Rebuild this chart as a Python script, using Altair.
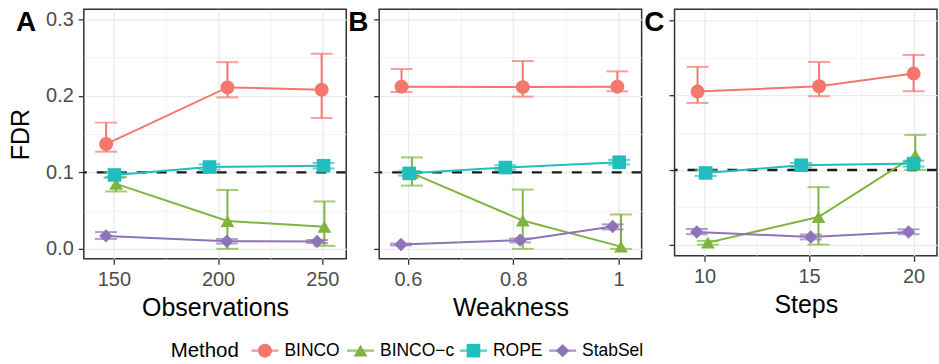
import altair as alt
import pandas as pd

FONT = "Liberation Sans"
INK = "#333333"
GRID = "#EBEBEB"

methods = ["BINCO", "BINCO\u2212c", "ROPE", "StabSel"]
colors = ["#F4776D", "#7FB53F", "#22BEBE", "#8F73B8"]
shapes = ["circle", "triangle-up", "square", "diamond"]
point_sizes = [196, 180, 140, 110]
fdr_target = [0.1]
panel_letters = ["A", "B", "C"]
y_ticks = [0.0, 0.05, 0.1, 0.15, 0.2, 0.25, 0.3]

# order in each array: BINCO x3, BINCO-c x3, ROPE x3, StabSel x3
obs_x = [146.3, 204.5, 249.7, 151.1, 204.5, 251.0, 150.3, 195.9, 250.6, 146.2, 204.2, 247.5]
obs_fdr = [0.137, 0.211, 0.208, 0.085, 0.0365, 0.029, 0.0966, 0.107, 0.1087, 0.017, 0.010, 0.0096]
obs_lo = [0.127, 0.198, 0.171, 0.075, 0.0, 0.004, 0.0931, 0.1035, 0.1052, 0.013, 0.007, 0.0076]
obs_hi = [0.165, 0.244, 0.255, 0.094, 0.077, 0.062, 0.1001, 0.1105, 0.1122, 0.022, 0.013, 0.0116]

weak_x = [0.588, 0.818, 0.9975, 0.6076, 0.818, 1.0044, 0.6025, 0.785, 1.001, 0.587, 0.813, 0.9886]
weak_fdr = [0.212, 0.2114, 0.212, 0.099, 0.037, 0.003, 0.0987, 0.1063, 0.1133, 0.0057, 0.0114, 0.0293]
weak_lo = [0.205, 0.199, 0.206, 0.0827, 0.0, 0.0, 0.0957, 0.1033, 0.1103, 0.0045, 0.0085, 0.0255]
weak_hi = [0.235, 0.2455, 0.232, 0.1195, 0.0775, 0.045, 0.1017, 0.1093, 0.1163, 0.007, 0.0135, 0.032]

steps_x = [9.665, 15.48, 20.0, 10.16, 15.45, 20.08, 10.05, 14.62, 20.0, 9.63, 15.08, 19.76]
steps_fdr = [0.2049, 0.212, 0.229, 0.0027, 0.037, 0.1196, 0.096, 0.1063, 0.1085, 0.017, 0.0103, 0.017]
steps_lo = [0.1897, 0.1987, 0.2054, 0.0, 0.0, 0.100, 0.092, 0.1033, 0.1045, 0.014, 0.007, 0.014]
steps_hi = [0.238, 0.2446, 0.254, 0.005, 0.077, 0.1469, 0.100, 0.1093, 0.1125, 0.021, 0.0135, 0.0205]

# legend layout (guide positions in px from the left edge of panel A)
legend_title = ["Method"]
legend_slot = [181.5, 277.3, 390.5, 479.8]
LEG_W = 855
LEG_H = 27


def frame(xs, fdr, lo, hi):
    return pd.DataFrame({
        "Method": [m for m in methods for _ in range(3)],
        "x": xs, "y": fdr, "lo": lo, "hi": hi,
    })


cscale = alt.Scale(domain=methods, range=colors)
sscale = alt.Scale(domain=methods, range=shapes)
zscale = alt.Scale(domain=methods, range=point_sizes)
YTEST = "abs(datum.value / 0.1 - round(datum.value / 0.1)) < 1e-6"


def panel(df, xtitle, xdomain, xvals, xstep, xfmt, height, ydomain, first, letter, letter_x):
    xtest = f"abs(datum.value / {xstep} - round(datum.value / {xstep})) < 1e-6"
    xaxis = alt.Axis(
        values=xvals, format=xfmt, labelExpr=f"({xtest}) ? datum.label : ''",
        gridWidth={"condition": {"test": xtest, "value": 1.3}, "value": 0.65},
        tickOpacity={"condition": {"test": xtest, "value": 1}, "value": 0},
    )
    yaxis = alt.Axis(
        values=y_ticks, format=".1f", labelExpr=f"({YTEST}) ? datum.label : ''",
        labels=first, titlePadding=12,
        gridWidth={"condition": {"test": YTEST, "value": 1.3}, "value": 0.65},
        tickOpacity={"condition": {"test": YTEST, "value": 1}, "value": 0},
    )
    ytitle = "FDR" if first else None
    X = alt.X("x:Q", scale=alt.Scale(domain=xdomain, nice=False, zero=False), axis=xaxis, title=xtitle)
    Y = alt.Y("y:Q", scale=alt.Scale(domain=ydomain, nice=False, zero=False), axis=yaxis, title=ytitle)
    col = alt.Color("Method:N", scale=cscale, legend=None)

    base = alt.Chart(df)
    hline = alt.Chart(pd.DataFrame({"y": fdr_target})).mark_rule(
        color="#1A1A1A", strokeDash=[10, 10], strokeWidth=2.4
    ).encode(y=alt.Y("y:Q", title=ytitle))
    lines = base.mark_line(strokeWidth=2).encode(x=X, y=Y, color=col, detail="Method:N")
    bars = base.mark_rule(strokeWidth=2).encode(
        x="x:Q", y=alt.Y("lo:Q", title=ytitle), y2="hi:Q", color=col)
    caps = base.transform_fold(["lo", "hi"], as_=["end", "val"]).mark_tick(
        orient="horizontal", size=22, thickness=2
    ).encode(x="x:Q", y=alt.Y("val:Q", title=ytitle), color=col)
    points = base.mark_point(filled=True, opacity=1).encode(
        x="x:Q", y=alt.Y("y:Q", title=ytitle),
        color=col,
        shape=alt.Shape("Method:N", scale=sscale, legend=None),
        size=alt.Size("Method:N", scale=zscale, legend=None),
    )
    lab = alt.Chart(pd.DataFrame({"label": [letter]})).mark_text(
        align="left", baseline="alphabetic", fontSize=28, fontWeight="bold",
        font=FONT, color="#000000"
    ).encode(text="label:N", x=alt.value(letter_x), y=alt.value(21.3))
    return alt.layer(hline, lines, bars, caps, points, lab).properties(width=263, height=height)


pA = panel(frame(obs_x, obs_fdr, obs_lo, obs_hi), "Observations", [135.6, 261.5],
           [150, 175, 200, 225, 250], 50, "d", 250, [-0.013, 0.313], True, panel_letters[0], -68)
pB = panel(frame(weak_x, weak_fdr, weak_lo, weak_hi), "Weakness", [0.5456, 1.0436],
           [0.6, 0.7, 0.8, 0.9, 1.0], 0.2, "~g", 250, [-0.013, 0.313], False, panel_letters[1], -31)
pC = panel(frame(steps_x, steps_fdr, steps_lo, steps_hi), "Steps", [8.565, 21.12],
           [10, 12.5, 15, 17.5, 20], 5, "d", 247, [-0.015, 0.315], False, panel_letters[2], -30.5)

# ---- legend, drawn as its own small chart ----
leg_df = pd.DataFrame({"Method": methods, "slot": legend_slot})
LX = alt.X("slot:Q", scale=alt.Scale(domain=[0, LEG_W], range=[0, LEG_W], nice=False, zero=False), axis=None)
leg_col = alt.Color("Method:N", scale=cscale, legend=None)
leg_base = alt.Chart(leg_df)
leg_lines = leg_base.mark_tick(orient="horizontal", size=27, thickness=2.5).encode(
    x=LX, y=alt.value(LEG_H / 2), color=leg_col)
leg_pts = leg_base.mark_point(filled=True, opacity=1).encode(
    x=LX, y=alt.value(LEG_H / 2), color=leg_col,
    shape=alt.Shape("Method:N", scale=sscale, legend=None),
    size=alt.Size("Method:N", scale=zscale, legend=None))
leg_text = leg_base.mark_text(align="left", baseline="middle", dx=19.5, fontSize=17.5,
                              font=FONT, color="#000000").encode(
    x=LX, y=alt.value(LEG_H / 2), text="Method:N")
leg_title = alt.Chart(pd.DataFrame({"t": legend_title})).mark_text(
    align="left", baseline="middle", fontSize=20.5, font=FONT, color="#000000"
).encode(x=alt.value(87), y=alt.value(LEG_H / 2), text="t:N")
legend = alt.layer(leg_lines, leg_pts, leg_text, leg_title).properties(
    width=LEG_W, height=LEG_H, view=alt.ViewBackground(strokeWidth=0))

top = alt.hconcat(pA, pB, pC, spacing=33, bounds="flush")
chart = alt.vconcat(top, legend, spacing=328.5, bounds="flush").properties(
    padding={"left": 7, "top": 7, "right": 0, "bottom": 0}
).configure(font=FONT).configure_view(
    stroke=INK, strokeWidth=1.5
).configure_axis(
    domain=False, tickColor=INK, tickWidth=1.3, tickSize=5.5,
    labelColor="#4D4D4D", labelFontSize=20, labelFont=FONT, labelPadding=5,
    titleFont=FONT, titleFontSize=25, titleFontWeight="normal", titleColor="#000000",
    gridColor=GRID, titlePadding=6,
)

chart.save("out.html", embed_options={"renderer": "svg", "actions": False})
